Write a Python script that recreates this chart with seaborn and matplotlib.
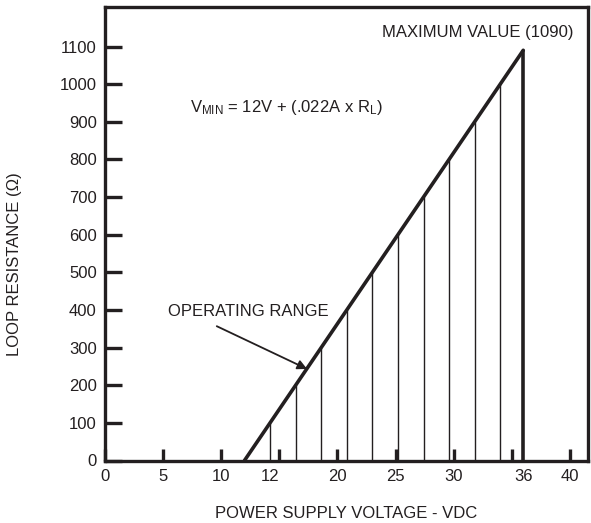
import matplotlib
matplotlib.use("Agg")
import matplotlib.pyplot as plt
import seaborn as sns
import pandas as pd

# ---- data ----
line_v = [12.0, 35.98]          # power supply voltage (VDC)
line_r = [0, 1090]              # loop resistance (ohm)
hatch_r = [100, 200, 300, 400, 500, 600, 700, 800, 900, 1000]
hatch_v = [14.2, 16.4, 18.6, 20.8, 23.0, 25.2, 27.4, 29.6, 31.8, 34.0]
max_v = 36
max_r = 1090
xtick_major = [0, 5, 10, 15, 20, 25, 30, 35, 40]
xlabel_pos = [0, 5, 10, 14.2, 20, 25, 30, 36, 40]
xlabel_txt = ["0", "5", "10", "12", "20", "25", "30", "36", "40"]
ytick_vals = [0, 100, 200, 300, 400, 500, 600, 700, 800, 900, 1000, 1100]

sns.set_theme(style="white")
FONT = ["Liberation Sans Narrow", "Liberation Sans", "DejaVu Sans"]
plt.rcParams["font.family"] = FONT
plt.rcParams["mathtext.fontset"] = "custom"
plt.rcParams["mathtext.rm"] = "Liberation Sans"
plt.rcParams["mathtext.it"] = "Liberation Sans"
plt.rcParams["text.color"] = "#231f20"

INK = "#231f20"
FS = 12

fig = plt.figure(figsize=(5.91, 5.23), dpi=100)
ax = fig.add_axes([105 / 591, (523 - 460.5) / 523, (588 - 105) / 591, (460.5 - 7) / 523])

df = pd.DataFrame({"V": line_v, "R": line_r})
sns.lineplot(data=df, x="V", y="R", ax=ax, color=INK, linewidth=2.6)
ax.vlines(hatch_v, 0, hatch_r, color=INK, linewidth=1.0)
ax.vlines([max_v], 0, [max_r], color=INK, linewidth=2.6)

ax.set_xlim(0, 41.55)
ax.set_ylim(0, 1205)

for s in ax.spines.values():
    s.set_linewidth(2.4)
    s.set_color(INK)

ax.xaxis.remove_overlapping_locs = False
ax.set_xticks(xtick_major)
ax.set_xticklabels([""] * len(xtick_major))
ax.set_xticks(xlabel_pos, minor=True)
ax.set_xticklabels(xlabel_txt, minor=True)
ax.tick_params(axis="x", which="major", direction="in", length=9, width=2.4, color=INK)
ax.tick_params(axis="x", which="minor", length=0, pad=6, labelsize=FS, labelcolor=INK)

ax.set_yticks(ytick_vals)
ax.set_yticklabels([str(v) for v in ytick_vals])
ax.tick_params(axis="y", direction="in", length=12, width=2.4, pad=6, labelsize=FS,
               color=INK, labelcolor=INK)
ax.tick_params(left=True, bottom=True)

ax.set_xlabel("POWER SUPPLY VOLTAGE - VDC", fontsize=FS, labelpad=16, color=INK)
ax.set_ylabel("LOOP RESISTANCE (Ω)", fontsize=FS, color=INK)
ax.yaxis.set_label_coords(-0.172, 0.433)

ax.text(32.1, 1138, "MAXIMUM VALUE (1090)", ha="center", va="center", fontsize=FS)
ax.text(7.3, 937, r"V$_{\mathregular{MIN}}$ = 12V + (.022A x R$_{\mathregular{L}}$)",
        ha="left", va="center", fontsize=FS)
ax.annotate("", xy=(17.6, 240), xytext=(9.4, 360),
            arrowprops=dict(arrowstyle="-|>", color=INK, lw=1.3, mutation_scale=14))
ax.text(12.3, 395, "OPERATING RANGE", ha="center", va="center", fontsize=FS)

fig.savefig("out.png", dpi=100)
